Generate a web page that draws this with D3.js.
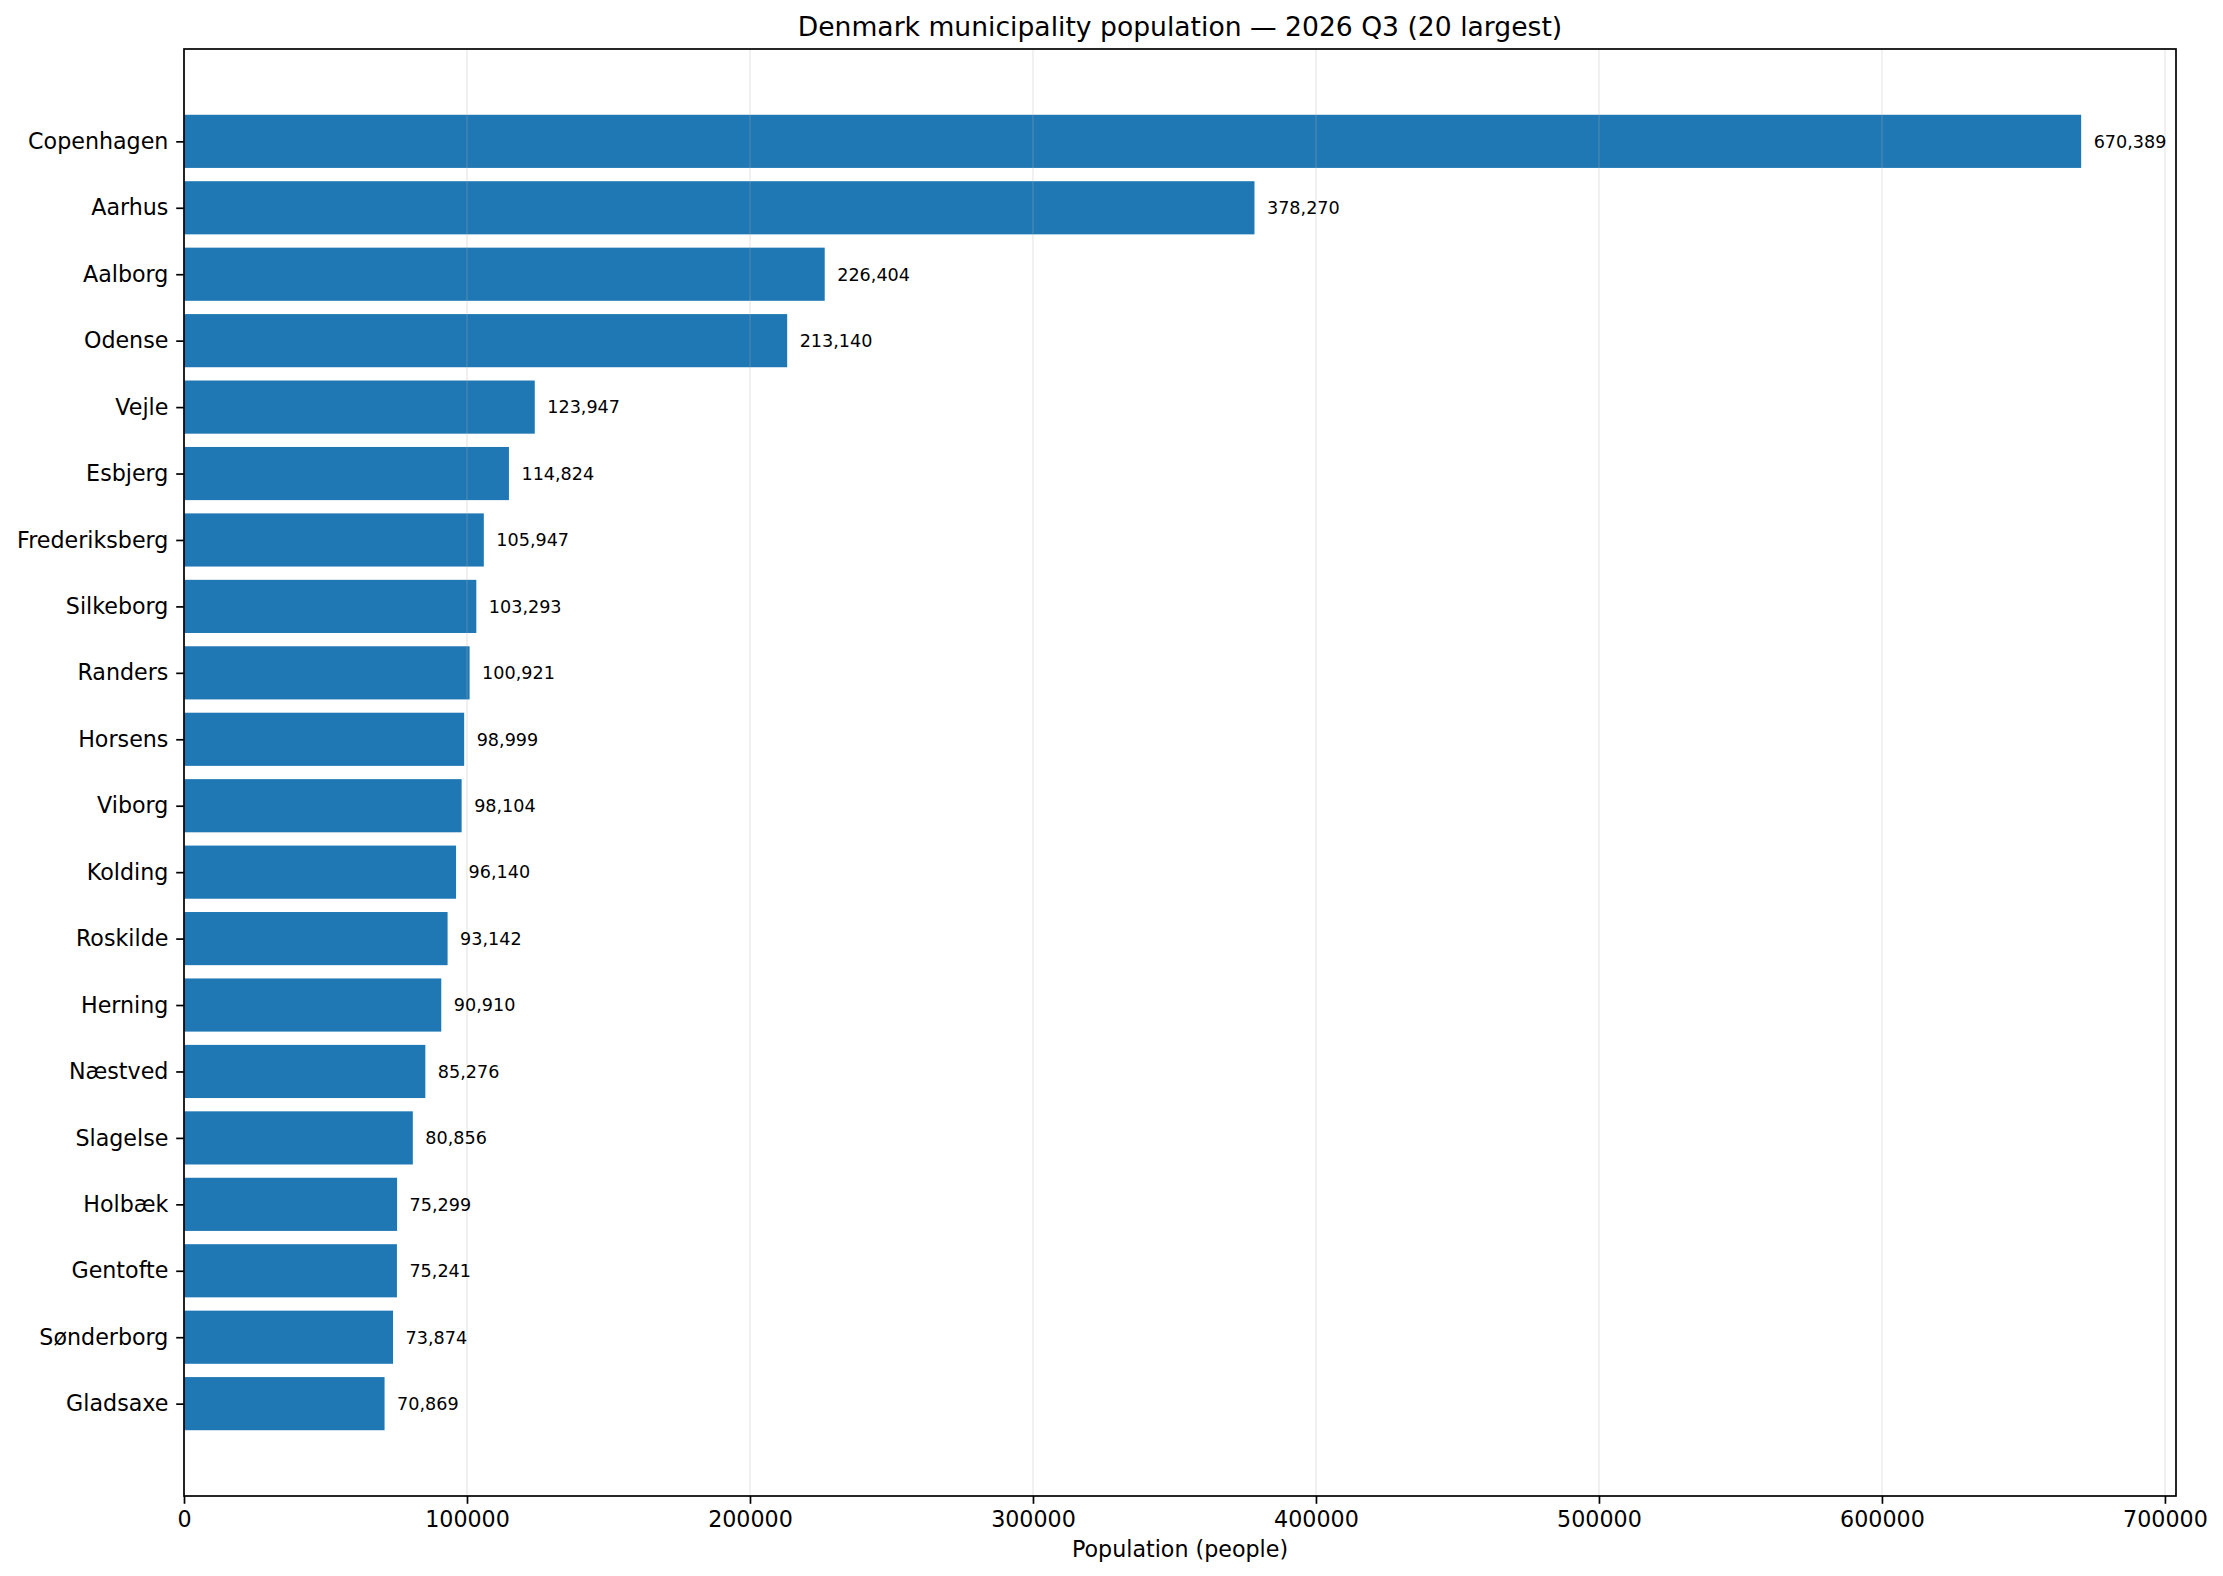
<html lang="en">
  <head>
    <title>Denmark municipality population</title>
    <script src="https://d3js.org/d3.v7.min.js"></script>
    <style>
      body { margin: 0; background: #fff; }
      svg text { font-family: 'DejaVu Sans', sans-serif; fill: #000; }
      .grid line { stroke: #b0b0b0; stroke-opacity: 0.22; stroke-width: 1.7; }
    </style>
  </head>
  <body>
    <svg id="chart" width="2223" height="1576"></svg>
    <script>

      const municipalities = [
        'Copenhagen', 'Aarhus', 'Aalborg', 'Odense', 'Vejle', 'Esbjerg',
        'Frederiksberg', 'Silkeborg', 'Randers', 'Horsens', 'Viborg', 'Kolding',
        'Roskilde', 'Herning', 'Næstved', 'Slagelse', 'Holbæk', 'Gentofte',
        'Sønderborg', 'Gladsaxe'
      ]

      const population = [
        670389, 378270, 226404, 213140, 123947, 114824,
        105947, 103293, 100921, 98999, 98104, 96140,
        93142, 90910, 85276, 80856, 75299, 75241,
        73874, 70869
      ]

      const xTicks = [0, 100000, 200000, 300000, 400000, 500000, 600000, 700000]

      const svg = d3.select('#chart')
      const margin = { left: 184, right: 2176, top: 49, bottom: 1496 }

      // matplotlib-like limits: 5% headroom on x, bar-height padding on y
      const n = municipalities.length
      const x = d3.scaleLinear()
        .domain([0, d3.max(population) * 1.05])
        .range([margin.left, margin.right])

      const span = (n - 1) + 0.8
      const y = d3.scaleLinear()
        .domain([-0.4 - span * 0.05, n - 1 + 0.4 + span * 0.05])
        .range([margin.top, margin.bottom])
      const barH = y(0.8) - y(0)

      // bars
      svg.append('g')
        .selectAll('rect')
        .data(population)
        .join('rect')
        .attr('x', x(0))
        .attr('y', (d, i) => y(i - 0.4))
        .attr('width', d => x(d) - x(0))
        .attr('height', barH)
        .attr('fill', '#1f77b4')

      // vertical grid, drawn over the bars like the original
      svg.append('g').attr('class', 'grid')
        .selectAll('line')
        .data(xTicks)
        .join('line')
        .attr('x1', d => x(d)).attr('x2', d => x(d))
        .attr('y1', margin.top).attr('y2', margin.bottom)

      // value labels
      svg.append('g')
        .selectAll('text')
        .data(population)
        .join('text')
        .attr('x', d => x(d) + 12.5)
        .attr('y', (d, i) => y(i))
        .attr('dy', '0.36em')
        .attr('font-size', 17.6)
        .text(d => d3.format(',')(d))

      // x axis
      const xAxis = svg.append('g')
        .attr('transform', `translate(0,${margin.bottom})`)
        .call(d3.axisBottom(x).tickValues(xTicks).tickFormat(d3.format('d'))
          .tickSizeInner(7.8).tickSizeOuter(0).tickPadding(7.8))
      xAxis.select('.domain').remove()
      xAxis.selectAll('line').attr('stroke', '#000').attr('stroke-width', 1.7)
      xAxis.selectAll('text').attr('font-size', 22.2).attr('font-family', 'DejaVu Sans').attr('fill', '#000')

      // y axis
      const yAxis = svg.append('g')
        .attr('transform', `translate(${margin.left},0)`)
        .call(d3.axisLeft(y).tickValues(d3.range(n)).tickFormat(i => municipalities[i])
          .tickSizeInner(7.8).tickSizeOuter(0).tickPadding(7.8))
      yAxis.select('.domain').remove()
      yAxis.selectAll('line').attr('stroke', '#000').attr('stroke-width', 1.7)
      yAxis.selectAll('text').attr('font-size', 22.2).attr('font-family', 'DejaVu Sans').attr('fill', '#000')

      // frame
      svg.append('rect')
        .attr('x', margin.left).attr('y', margin.top)
        .attr('width', margin.right - margin.left)
        .attr('height', margin.bottom - margin.top)
        .attr('fill', 'none')
        .attr('stroke', '#000')
        .attr('stroke-width', 1.7)

      svg.append('text')
        .attr('x', (margin.left + margin.right) / 2)
        .attr('y', margin.top - 13)
        .attr('text-anchor', 'middle')
        .attr('font-size', 26.6)
        .text('Denmark municipality population — 2026 Q3 (20 largest)')

      svg.append('text')
        .attr('x', (margin.left + margin.right) / 2)
        .attr('y', 1557)
        .attr('text-anchor', 'middle')
        .attr('font-size', 22.2)
        .text('Population (people)')
    </script>
  </body>
</html>
